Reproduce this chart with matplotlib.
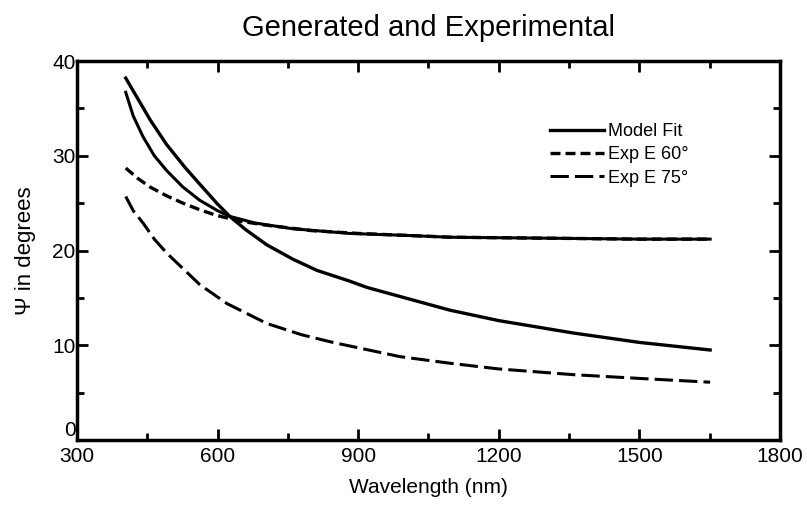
import matplotlib
matplotlib.use("Agg")
import matplotlib.pyplot as plt
from matplotlib.ticker import MultipleLocator

# values
wl_fit_a = [404, 430, 456, 491, 530, 562, 600, 626, 660, 705, 760, 812, 880, 919,
            1000, 1096, 1200, 1358, 1500, 1651]
psi_fit_a = [38.2, 36.0, 33.8, 31.2, 28.8, 27.0, 24.9, 23.6, 22.2, 20.6, 19.1, 17.9,
             16.8, 16.1, 15.0, 13.7, 12.6, 11.3, 10.3, 9.5]

wl_fit_b = [404, 420, 441, 465, 492, 526, 562, 600, 626, 680, 760, 882, 1000, 1096,
            1300, 1500, 1651]
psi_fit_b = [36.7, 34.2, 32.0, 30.0, 28.4, 26.7, 25.3, 24.2, 23.6, 22.9, 22.3, 21.8,
             21.6, 21.4, 21.3, 21.2, 21.2]

wl_exp60 = [404, 430, 456, 490, 526, 562, 598, 648, 700, 800, 900, 1100, 1300, 1500, 1651]
psi_exp60 = [28.7, 27.6, 26.7, 25.8, 25.0, 24.3, 23.7, 23.1, 22.7, 22.1, 21.8, 21.4,
             21.3, 21.2, 21.2]

wl_exp75 = [404, 420, 441, 465, 492, 526, 562, 620, 705, 780, 846, 989, 1096, 1200,
            1358, 1500, 1651]
psi_exp75 = [25.7, 24.2, 22.9, 21.2, 19.7, 18.1, 16.4, 14.4, 12.3, 11.1, 10.3, 8.8,
             8.1, 7.5, 6.9, 6.5, 6.1]

legend_labels = ["Model Fit", "Exp E 60°", "Exp E 75°"]

plt.rcParams['font.family'] = ['Liberation Sans', 'DejaVu Sans']

fig = plt.figure(figsize=(8.07, 5.05), dpi=100)
ax = fig.add_axes([0.0954, 0.1287, 0.8711, 0.7505])

ax.plot(wl_fit_a, psi_fit_a, color='black', lw=2.4, label=legend_labels[0])
ax.plot(wl_fit_b, psi_fit_b, color='black', lw=2.2)
ax.plot(wl_exp60, psi_exp60, color='black', lw=2.4, ls=(0, (3, 1.5)), label=legend_labels[1])
ax.plot(wl_exp75, psi_exp75, color='black', lw=2.2, ls=(0, (6, 2)), label=legend_labels[2])

ax.set_xlim(300, 1800)
ax.set_ylim(0, 40)
ax.xaxis.set_major_locator(MultipleLocator(300))
ax.xaxis.set_minor_locator(MultipleLocator(150))
ax.yaxis.set_major_locator(MultipleLocator(10))
ax.yaxis.set_minor_locator(MultipleLocator(5))
ax.tick_params(which='both', direction='in', top=True, right=True, width=2,
               labelsize=15)
ax.tick_params(axis='x', pad=5)
ax.tick_params(axis='y', pad=1)
ax.tick_params(which='major', length=8)
ax.tick_params(which='minor', length=5)
for s in ax.spines.values():
    s.set_linewidth(2.5)

ax.set_title("Generated and Experimental", fontsize=21, pad=18)
ax.set_xlabel("Wavelength (nm)", fontsize=15, labelpad=9)
ax.set_ylabel("Ψ in degrees", fontsize=16, labelpad=12)

ax.legend(loc='upper left', bbox_to_anchor=(0.66, 0.86), frameon=False, fontsize=13,
          handlelength=3.0, handletextpad=0.2, labelspacing=0.35, borderpad=0)

# the "0" sits just above the corner so it does not run into "300"
fig.canvas.draw()
for t in ax.yaxis.get_major_ticks():
    if abs(t.get_loc()) < 1e-9:
        t.label1.set_verticalalignment('bottom')

fig.savefig("out.png", dpi=100)
